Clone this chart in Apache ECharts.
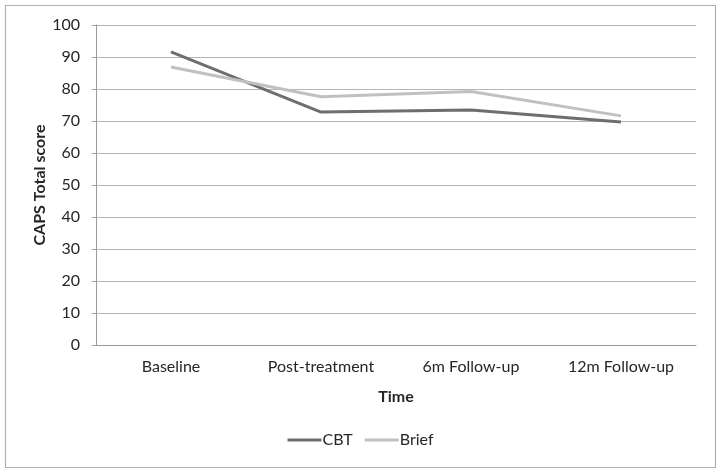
<!DOCTYPE html>
<html>
<head>
<meta charset="utf-8">
<script src="https://cdn.jsdelivr.net/npm/echarts@6/dist/echarts.min.js"></script>
<style>
html,body{margin:0;padding:0;background:#fff;}
#c{width:721px;height:474px;}
</style>
</head>
<body>
<div id="c"></div>
<script>
var categories = ['Baseline', 'Post-treatment', '6m Follow-up', '12m Follow-up'];
var cbtValues = [91.6, 72.8, 73.4, 69.7];
var briefValues = [86.9, 77.6, 79.2, 71.6];
var seriesNames = ['CBT', 'Brief'];
var yTicks = [0, 100, 10];

var chart = echarts.init(document.getElementById('c'), null, {renderer: 'canvas'});
var font = 'Lato, "Open Sans", sans-serif';
chart.setOption({
  animation: false,
  backgroundColor: '#fff',
  graphic: [{
    type: 'rect',
    shape: {x: 5.5, y: 5.5, width: 710, height: 462},
    style: {fill: 'none', stroke: '#b0b0b0', lineWidth: 1.2},
    silent: true
  }],
  grid: {left: 96, right: 25, top: 25, bottom: 129, containLabel: false},
  legend: {
    data: seriesNames,
    bottom: 21,
    left: 'center',
    itemWidth: 34,
    itemHeight: 3,
    itemGap: 12,
    icon: 'rect',
    textStyle: {fontFamily: font, fontSize: 16, color: '#262626', padding: [0,0,0,-4]}
  },
  xAxis: {
    type: 'category',
    data: categories,
    boundaryGap: true,
    name: 'Time',
    nameLocation: 'middle',
    nameGap: 44,
    nameTextStyle: {fontFamily: font, fontSize: 16, fontWeight: 'bold', color: '#262626'},
    axisLine: {lineStyle: {color: '#9a9a9a', width: 1}},
    axisTick: {show: false},
    axisLabel: {fontFamily: font, fontSize: 16, color: '#262626', margin: 14}
  },
  yAxis: {
    type: 'value',
    min: yTicks[0],
    max: yTicks[1],
    interval: yTicks[2],
    name: 'CAPS Total score',
    nameLocation: 'middle',
    nameGap: 48,
    nameMoveOverlap: false,
    nameTextStyle: {fontFamily: font, fontSize: 16, fontWeight: 'bold', color: '#262626'},
    axisLine: {show: true, lineStyle: {color: '#9a9a9a', width: 1}},
    axisTick: {show: true, length: 4, inside: false, lineStyle: {color: '#9a9a9a'}},
    axisLabel: {fontFamily: font, fontSize: 16, color: '#262626', margin: 16},
    splitLine: {lineStyle: {color: '#b5b5b5', width: 1}}
  },
  series: [{
    name: seriesNames[0],
    type: 'line',
    data: cbtValues,
    symbol: 'none',
    lineStyle: {color: '#6e6e6e', width: 3},
    itemStyle: {color: '#6e6e6e'}
  }, {
    name: seriesNames[1],
    type: 'line',
    data: briefValues,
    symbol: 'none',
    lineStyle: {color: '#c0c0c0', width: 3},
    itemStyle: {color: '#c0c0c0'}
  }]
});
</script>
</body>
</html>
